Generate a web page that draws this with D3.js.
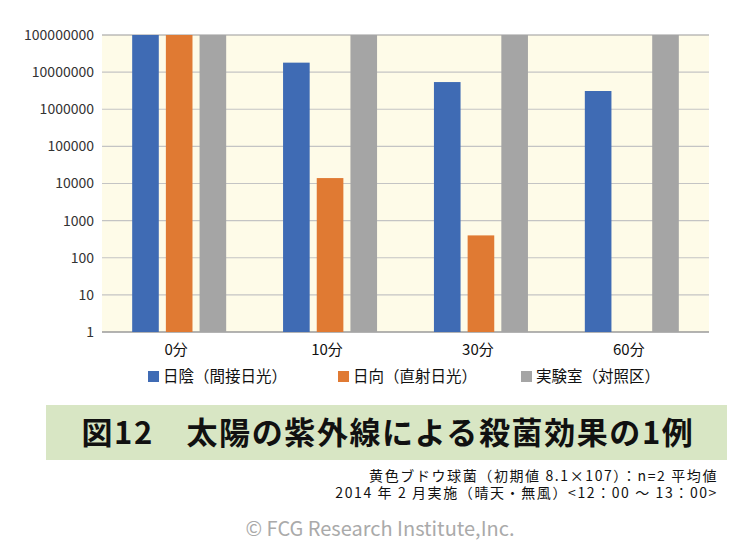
<!DOCTYPE html>
<html><head><meta charset="utf-8">
<script src="https://cdn.jsdelivr.net/npm/d3@7"></script>
<style>
html,body{margin:0;padding:0;background:#fff;}
svg{display:block;}
text{font-family:"Noto Sans CJK JP","Noto Sans",sans-serif;}
</style></head>
<body>
<svg id="chart" width="750" height="552"></svg>
<script>
const categories = ["0分","10分","30分","60分"];
const seriesNames = ["日陰（間接日光）","日向（直射日光）","実験室（対照区）"];
const shadeValues = [100000000, 18000000, 5400000, 3100000];
const sunValues = [100000000, 14000, 400, null];
const labValues = [100000000, 100000000, 100000000, 100000000];
const yTicks = [1,10,100,1000,10000,100000,1000000,10000000,100000000];
const colors = ["#3F6BB4","#E07A33","#A5A5A5"];
const titleText = "図12　太陽の紫外線による殺菌効果の1例";
const noteLines = ["黄色ブドウ球菌（初期値 8.1×107）：n=2 平均値","2014 年 2 月実施（晴天・無風）<12：00 ～ 13：00>"];
const copyright = "© FCG Research Institute,Inc.";

const seriesValues = [shadeValues, sunValues, labValues];
const svg = d3.select("#chart");
const L = 102, R = 709, T = 35, B = 332;

const x0 = d3.scaleBand().domain(categories).range([L, R]).paddingInner(0.377).paddingOuter(0.2);
const x1 = d3.scaleBand().domain(d3.range(3)).range([0, x0.bandwidth()]).paddingInner(0.21);
const y = d3.scaleLog().domain([1, 1e8]).range([B, T]);

svg.append("rect").attr("x", L).attr("y", T).attr("width", R - L).attr("height", B - T).attr("fill", "#FEFBE8");

// gridlines
svg.append("g").selectAll("line").data(yTicks).join("line")
  .attr("x1", L).attr("x2", R)
  .attr("y1", d => y(d)).attr("y2", d => y(d))
  .attr("stroke", d => (d === 1 || d === 1e8) ? "#9a9a9a" : "#c4c4c4")
  .attr("stroke-width", d => (d === 1) ? 1.3 : 1.2);

// y labels
svg.append("g").selectAll("text").data(yTicks).join("text")
  .attr("x", 94).attr("y", d => y(d)).attr("dy", "0.35em")
  .attr("text-anchor", "end").attr("font-size", 14).attr("fill", "#333")
  .attr("font-family", "Roboto, 'Liberation Sans', sans-serif")
  .text(d => d3.format("d")(d));

// bars
const g = svg.append("g");
categories.forEach((c, ci) => {
  seriesValues.forEach((vals, si) => {
    const v = vals[ci];
    if (v == null) return;
    g.append("rect")
      .attr("x", x0(c) + x1(si)).attr("width", x1.bandwidth())
      .attr("y", y(v)).attr("height", y(1) - y(v))
      .attr("fill", colors[si]);
  });
});

// x labels
svg.append("g").selectAll("text").data(categories).join("text")
  .attr("x", d => x0(d) + x0.bandwidth() / 2 - 3).attr("y", 355)
  .attr("text-anchor", "middle").attr("font-size", 15).attr("fill", "#111")
  .text(d => d);

// legend
const legX = [148, 338, 521];
seriesNames.forEach((n, i) => {
  svg.append("rect").attr("x", legX[i]).attr("y", 371).attr("width", 11).attr("height", 11).attr("fill", colors[i]);
  svg.append("text").attr("x", legX[i] + 15).attr("y", 382).attr("font-size", 15.5).attr("fill", "#111").text(n);
});

// title box
svg.append("rect").attr("x", 46).attr("y", 405).attr("width", 681).attr("height", 55).attr("fill", "#D8E6C4");
svg.append("text").attr("x", 388).attr("y", 444).attr("text-anchor", "middle")
  .attr("font-size", 31).attr("font-weight", "bold").attr("letter-spacing", 1.6).attr("fill", "#111").text(titleText);

// notes
noteLines.forEach((t, i) => {
  svg.append("text").attr("x", 718).attr("y", 481 + i * 17).attr("text-anchor", "end")
    .attr("font-size", 14).attr("letter-spacing", 1.6).attr("fill", "#111").text(t);
});

svg.append("text").attr("x", 380).attr("y", 536).attr("text-anchor", "middle")
  .attr("font-size", 20).attr("fill", "#aaa").attr("font-family", "'Open Sans', 'Noto Sans', sans-serif")
  .text(copyright);
</script>
</body></html>
